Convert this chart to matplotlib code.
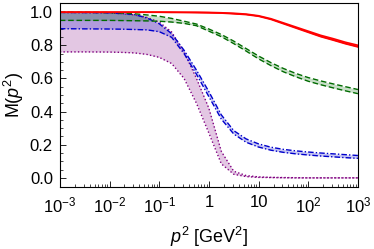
import numpy as np
import matplotlib.pyplot as plt
from matplotlib.ticker import FixedLocator, NullFormatter

plt.rcParams['font.family'] = ['Liberation Sans', 'DejaVu Sans']
plt.rcParams['mathtext.fontset'] = 'custom'
plt.rcParams['mathtext.it'] = 'Liberation Sans:italic'
plt.rcParams['mathtext.rm'] = 'Liberation Sans'

# log10(p^2) sample points
t = [-3, -2.5, -2, -1.75, -1.5, -1.25, -1, -0.75, -0.5, -0.25, 0, 0.25,
     0.5, 0.75, 1, 1.25, 1.5, 1.75, 2, 2.25, 2.5, 2.75, 3]

red_hi = [1.0, 1.0, 1.0, 1.0, 1.0, 1.0, 1.0, 1.0, 0.999, 0.999, 0.998, 0.996,
          0.993, 0.988, 0.978, 0.96, 0.935, 0.91, 0.885, 0.86, 0.84, 0.818, 0.80]
red_lo = [0.999, 0.999, 0.999, 0.999, 0.999, 0.999, 0.999, 0.998, 0.998, 0.997, 0.996, 0.994,
          0.99, 0.985, 0.975, 0.956, 0.93, 0.904, 0.878, 0.852, 0.831, 0.809, 0.79]

green_hi = [1.0, 0.999, 0.997, 0.994, 0.99, 0.983, 0.975, 0.962, 0.945, 0.928, 0.898, 0.865,
            0.825, 0.78, 0.735, 0.695, 0.66, 0.63, 0.605, 0.585, 0.567, 0.55, 0.533]
green_lo = [0.95, 0.95, 0.95, 0.949, 0.948, 0.947, 0.945, 0.94, 0.932, 0.918, 0.885, 0.852,
            0.81, 0.765, 0.718, 0.677, 0.64, 0.61, 0.583, 0.562, 0.543, 0.525, 0.508]

blue_hi = [0.998, 0.997, 0.995, 0.991, 0.985, 0.965, 0.93, 0.87, 0.77, 0.65, 0.52, 0.38,
           0.285, 0.235, 0.205, 0.185, 0.172, 0.163, 0.156, 0.15, 0.145, 0.14, 0.135]
blue_lo = [0.90, 0.899, 0.898, 0.897, 0.895, 0.893, 0.882, 0.848, 0.75, 0.625, 0.49, 0.355,
           0.265, 0.215, 0.186, 0.167, 0.154, 0.145, 0.138, 0.132, 0.127, 0.122, 0.118]

purple_hi = [0.998, 0.997, 0.995, 0.99, 0.983, 0.968, 0.94, 0.88, 0.76, 0.60, 0.42, 0.16,
             0.04, 0.014, 0.006, 0.003, 0.002, 0.001, 0.0, 0.0, 0.0, 0.0, 0.0]
purple_lo = [0.76, 0.76, 0.759, 0.757, 0.754, 0.745, 0.727, 0.69, 0.60, 0.45, 0.27, 0.085,
             0.022, 0.008, 0.003, 0.002, 0.001, 0.0, 0.0, 0.0, 0.0, 0.0, 0.0]

xticks = [1e-3, 1e-2, 1e-1, 1, 10, 1e2, 1e3]
xticklabels = ['$10^{-3}$', '$10^{-2}$', '$10^{-1}$', '1', '10', '$10^{2}$', '$10^{3}$']
yticks = [0.0, 0.2, 0.4, 0.6, 0.8, 1.0]
yticklabels = ['0.0', '0.2', '0.4', '0.6', '0.8', '1.0']

p2 = 10.0 ** np.array(t)

fig = plt.figure(figsize=(3.74, 2.49), dpi=100)
ax = fig.add_axes([0.160, 0.249, 0.797, 0.739])

bands = [
    (purple_lo, purple_hi, (0.5, 0, 0.5), (1, 1.6), 1.0, 0.22),
    (blue_lo, blue_hi, (0, 0, 0.8), (4, 1.5, 1, 1.5), 1.0, 0.22),
    (green_lo, green_hi, (0.0, 0.42, 0.0), (4, 2), 1.0, 0.22),
    (red_lo, red_hi, (1, 0, 0), None, 1.2, 0.9),
]
for lo, hi, col, dash, lw, a in bands:
    ax.fill_between(p2, lo, hi, color=col, alpha=a, lw=0)
    for y in (lo, hi):
        ln, = ax.plot(p2, y, color=col, lw=lw)
        if dash is not None:
            ln.set_dashes(dash)

ax.set_xscale('log')
ax.set_xlim(1e-3, 1e3)
ax.set_ylim(-0.055, 1.055)
ax.set_xticks(xticks)
ax.set_xticklabels(xticklabels)
ax.set_yticks(yticks)
ax.set_yticklabels(yticklabels)
ax.yaxis.set_minor_locator(FixedLocator(np.arange(0.0, 1.05, 0.05)))
ax.yaxis.set_minor_formatter(NullFormatter())
ax.tick_params(which='both', direction='in', top=False, right=False, labelsize=12)
ax.tick_params(axis='x', pad=6)
ax.tick_params(axis='y', pad=5)
ax.tick_params(which='major', length=4, width=0.6)
ax.tick_params(which='minor', length=2, width=0.5)
for s in ax.spines.values():
    s.set_linewidth(0.8)

ax.set_xlabel('$p^2$ [GeV$^2$]', fontsize=13, labelpad=7)
ax.set_ylabel('M($p^2$)', fontsize=13, labelpad=3)

fig.savefig('out.png', dpi=100)
